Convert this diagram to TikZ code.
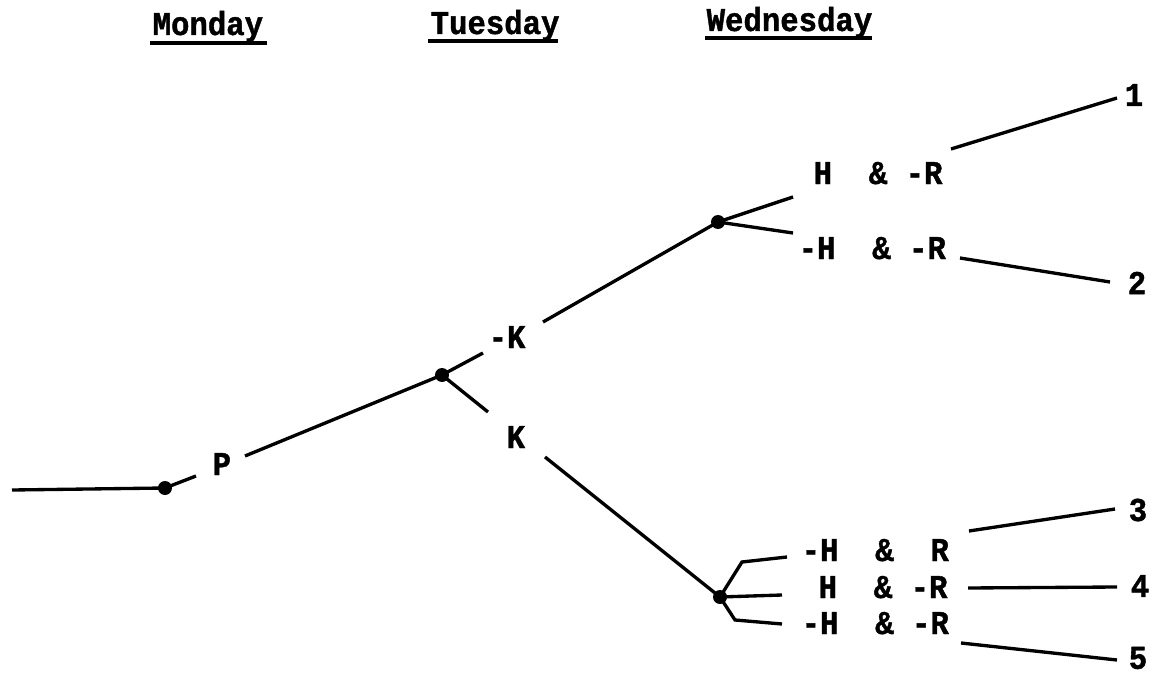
\documentclass[tikz,border=0pt]{standalone}
\usepackage{fontspec}
\setmonofont[FakeStretch=0.92,BoldFeatures={FakeBold=1.2}]{Liberation Mono}
\begin{document}
\begin{tikzpicture}[x=0.75pt,y=-0.75pt,line width=2.5pt,
  dot/.style={circle,fill,inner sep=0pt,minimum size=10.5pt},
  lbl/.style={font=\ttfamily\bfseries\fontsize{25}{27}\selectfont,inner sep=0pt,anchor=base west},
  num/.style={font=\ttfamily\bfseries\fontsize{25}{27}\selectfont,inner sep=0pt},
  uline/.style={line width=3pt}]
\useasboundingbox (0,0) rectangle (1154,674);
% headers
\node[lbl] (mon) at (151,35) {Monday};
\node[lbl] (tue) at (429,34) {Tuesday};
\node[lbl] (wed) at (705,31) {Wednesday};
\coordinate (mu1) at (150,43); \coordinate (mu2) at (267,43);
\coordinate (tu1) at (428,41); \coordinate (tu2) at (558,41);
\coordinate (wu1) at (705,38); \coordinate (wu2) at (872,38);
\draw[uline] (mu1) -- (mu2);
\draw[uline] (tu1) -- (tu2);
\draw[uline] (wu1) -- (wu2);
% dots
\node[dot] (d1) at (165,488) {};
\node[dot] (d2) at (442,375) {};
\node[dot] (d3) at (718,222) {};
\node[dot] (d4) at (720,597) {};
% Monday
\coordinate (s0) at (12,490);
\draw (s0) -- (d1.center);
\coordinate (pa) at (196,476);
\draw (d1.center) -- (pa);
\node[lbl] (P) at (211,475) {P};
\coordinate (pb) at (245,456);
\draw (pb) -- (d2.center);
% Tuesday
\coordinate (nka) at (483,353);
\draw (d2.center) -- (nka);
\node[lbl] (nK) at (487,348) {-K};
\coordinate (nkb) at (543,322);
\draw (nkb) -- (d3.center);
\coordinate (ka) at (488,412);
\draw (d2.center) -- (ka);
\node[lbl] (K) at (505,448) {K};
\coordinate (kb) at (545,457);
\draw (kb) -- (d4.center);
% Wednesday upper
\coordinate (u1) at (793,197);
\coordinate (u2) at (793,233);
\draw (d3.center) -- (u1);
\draw (d3.center) -- (u2);
\node[lbl] (l1) at (812,184) {H\ \ \&\ -R};
\node[lbl] (l2) at (797,259) {-H\ \ \&\ -R};
\coordinate (e1a) at (951,149); \coordinate (e1b) at (1117,98);
\coordinate (e2a) at (960,258); \coordinate (e2b) at (1110,282);
\draw (e1a) -- (e1b);
\draw (e2a) -- (e2b);
\node[num] (n1) at (1134,95) {1};
\node[num] (n2) at (1137,283) {2};
% Wednesday lower
\coordinate (v1a) at (742,562); \coordinate (v1b) at (787,557);
\coordinate (v2) at (782,595);
\coordinate (v3a) at (735,620); \coordinate (v3b) at (782,624);
\draw (d4.center) -- (v1a) -- (v1b);
\draw (d4.center) -- (v2);
\draw (d4.center) -- (v3a) -- (v3b);
\node[lbl] (l3) at (800,561) {-H\ \ \&\ \ R};
\node[lbl] (l4) at (817,598) {H\ \ \&\ -R};
\node[lbl] (l5) at (800,634) {-H\ \ \&\ -R};
\coordinate (e3a) at (969,531); \coordinate (e3b) at (1115,509);
\coordinate (e4a) at (968,588); \coordinate (e4b) at (1117,587);
\coordinate (e5a) at (961,643); \coordinate (e5b) at (1117,660);
\draw (e3a) -- (e3b);
\draw (e4a) -- (e4b);
\draw (e5a) -- (e5b);
\node[num] (n3) at (1138,510) {3};
\node[num] (n4) at (1140,586) {4};
\node[num] (n5) at (1138,658) {5};
\end{tikzpicture}
\end{document}
